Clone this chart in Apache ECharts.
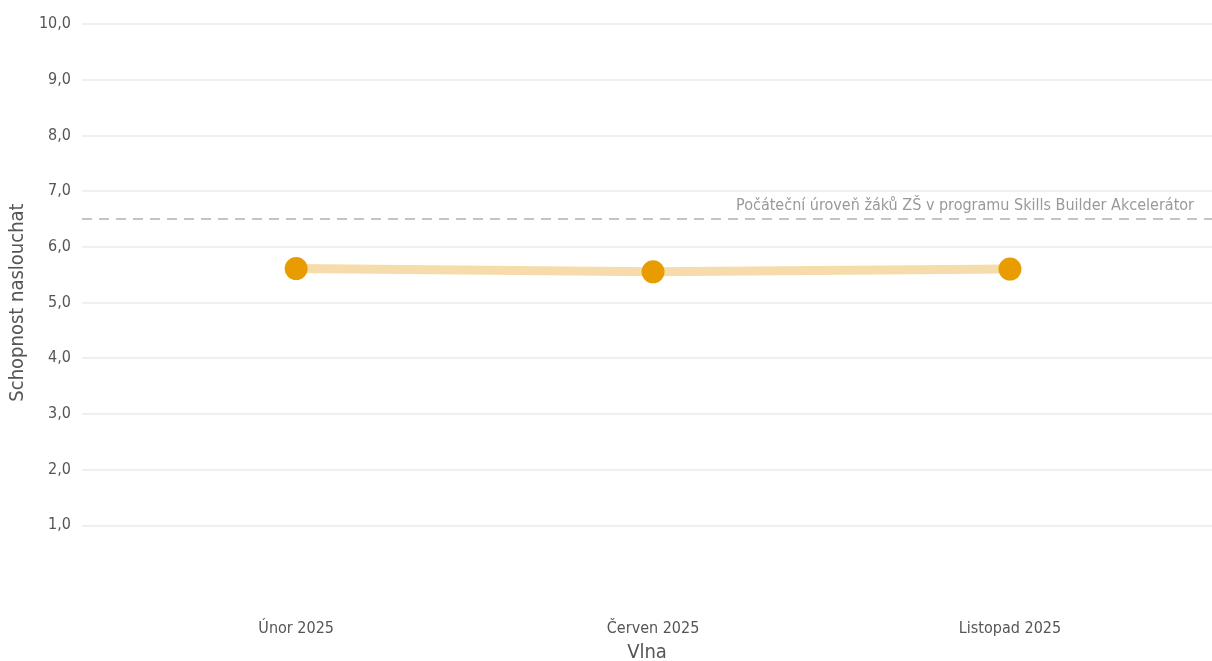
<!DOCTYPE html>
<html>
<head>
<meta charset="utf-8">
<script src="https://cdn.jsdelivr.net/npm/echarts@6/dist/echarts.min.js"></script>
<style>
  html, body { margin: 0; padding: 0; background: #fff; }
  #chart { width: 1212px; height: 661px; }
</style>
</head>
<body>
<div id="chart"></div>
<script>
  // data
  var waves = ['Únor 2025', 'Červen 2025', 'Listopad 2025'];
  var scores = [5.61, 5.55, 5.60];
  var baseline = 6.5;
  var baselineLabel = 'Počáteční úroveň žáků ZŠ v programu Skills Builder Akcelerátor';

  var font = '"Liberation Sans Narrow", "DejaVu Sans Condensed", "Open Sans", sans-serif';

  var myChart = echarts.init(document.getElementById('chart'));
  myChart.setOption({
    animation: false,
    textStyle: { fontFamily: font },
    grid: { left: 82, right: 0, top: 24, bottom: 80, containLabel: false, outerBoundsMode: 'none' },
    xAxis: {
      type: 'value',
      min: -0.6,
      max: 2.566,
      name: 'Vlna',
      nameLocation: 'middle',
      nameGap: 62,
      nameTextStyle: { fontSize: 20, color: '#555', fontFamily: font },
      axisLine: { show: false },
      axisTick: { show: false },
      splitLine: { show: false },
      axisLabel: {
        customValues: waves.map(function (w, i) { return i; }),
        margin: 40,
        fontSize: 16,
        color: '#555',
        fontFamily: font,
        formatter: function (v) { return waves[Math.round(v)] || ''; }
      }
    },
    yAxis: {
      type: 'value',
      min: 0,
      max: 10,
      interval: 1,
      name: 'Schopnost naslouchat',
      nameLocation: 'middle',
      nameGap: 46,
      nameTextStyle: { fontSize: 20, color: '#555', fontFamily: font },
      axisLine: { show: false },
      axisTick: { show: false },
      splitLine: { show: true, showMinLine: false, lineStyle: { color: '#ebebeb', width: 1.5 } },
      axisLabel: {
        showMinLabel: false,
        margin: 11,
        fontSize: 16,
        color: '#555',
        fontFamily: font,
        formatter: function (v) { return v.toFixed(1).replace('.', ','); }
      }
    },
    series: [{
      type: 'line',
      data: scores.map(function (v, i) { return [i, v]; }),
      symbol: 'circle',
      symbolSize: 23,
      itemStyle: { color: '#e89c00' },
      lineStyle: { color: '#f6dcaa', width: 9 },
      z: 3,
      markLine: {
        silent: true,
        symbol: 'none',
        data: [{ yAxis: baseline }],
        lineStyle: { color: '#c4c4c4', type: [10, 7], width: 2 },
        label: {
          show: true,
          position: 'insideEndTop',
          formatter: baselineLabel,
          fontSize: 16,
          color: '#999',
          fontFamily: font,
          distance: [18, 5]
        }
      }
    }]
  });
</script>
</body>
</html>
